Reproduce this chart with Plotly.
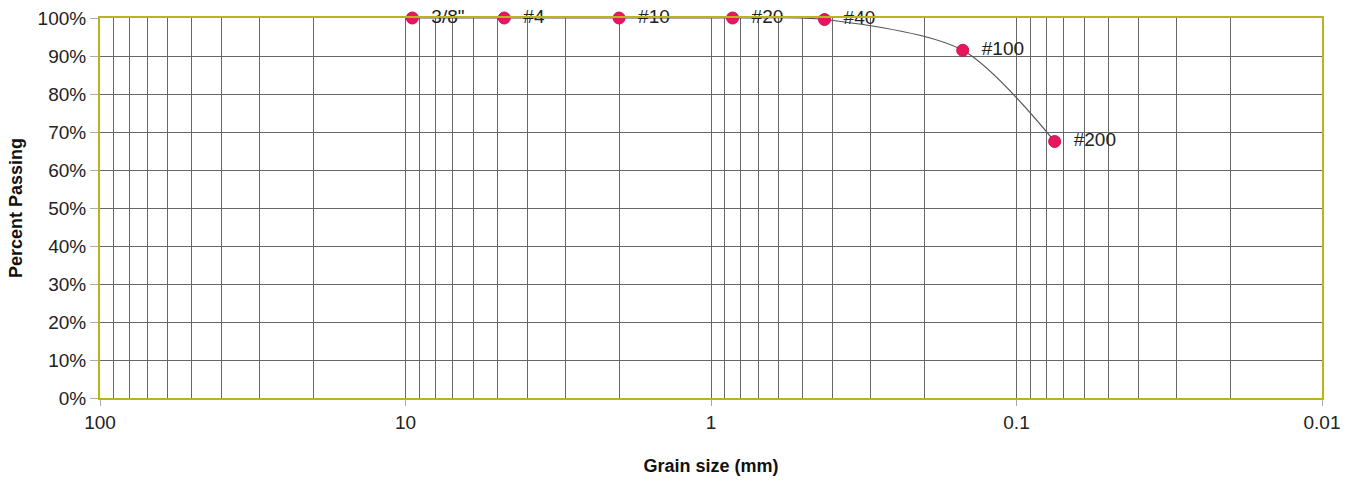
import plotly.graph_objects as go

# sieve analysis data
sieves = ['3/8"', '#4', '#10', '#20', '#40', '#100', '#200']
grain_size_mm = [9.5, 4.75, 2.0, 0.85, 0.425, 0.15, 0.075]
percent_passing = [100, 100, 100, 100, 99.6, 91.5, 67.5]

x_tick_vals = [100, 10, 1, 0.1, 0.01]
x_tick_text = ['100', '10', '1', '0.1', '0.01']

grid_color = '#666666'
frame_color = '#b8b41e'
font_family = 'Arial, Liberation Sans'

fig = go.Figure()

fig.add_trace(go.Scatter(
    x=grain_size_mm,
    y=percent_passing,
    mode='lines+markers+text',
    line=dict(color='#555555', width=1.2, shape='spline', smoothing=0.8),
    marker=dict(color='#e8175d', size=12, line=dict(color='#d01050', width=1)),
    text=['  ' + s for s in sieves],
    textposition='middle right',
    textfont=dict(family=font_family, size=19, color='#222222'),
    showlegend=False,
    cliponaxis=False,
))

fig.update_xaxes(
    type='log',
    range=[2, -2],
    tickvals=x_tick_vals,
    ticktext=x_tick_text,
    showgrid=True,
    gridcolor=grid_color,
    gridwidth=1,
    minor=dict(dtick='D1', showgrid=True, gridcolor=grid_color, gridwidth=1),
    ticks='outside',
    ticklen=6,
    tickcolor='#aaaaaa',
    tickfont=dict(family=font_family, size=19, color='#222222'),
    ticklabeloverflow='allow',
    title=dict(text='<b>Grain size (mm)</b>', standoff=28,
               font=dict(family=font_family, size=18, color='#111111')),
    showline=True,
    linecolor=frame_color,
    linewidth=2,
    mirror=True,
    zeroline=False,
    automargin=False,
)

fig.update_yaxes(
    range=[0, 100],
    dtick=10,
    ticksuffix='%',
    showgrid=True,
    gridcolor=grid_color,
    gridwidth=1,
    ticks='outside',
    ticklen=8,
    tickcolor='#aaaaaa',
    tickfont=dict(family=font_family, size=19, color='#222222'),
    ticklabeloverflow='allow',
    title=dict(text='<b>Percent Passing</b>', standoff=10,
               font=dict(family=font_family, size=18, color='#111111')),
    showline=True,
    linecolor=frame_color,
    linewidth=2,
    mirror=True,
    zeroline=False,
    automargin=False,
)

fig.update_layout(
    width=1347,
    height=482,
    margin=dict(l=100, r=25, t=18, b=84, autoexpand=False),
    plot_bgcolor='white',
    paper_bgcolor='white',
)

# drop the default 8px page margin so the figure fills the window exactly
fig.write_html('out.html', config={'displayModeBar': False},
               post_script="document.body.style.margin='0';")
